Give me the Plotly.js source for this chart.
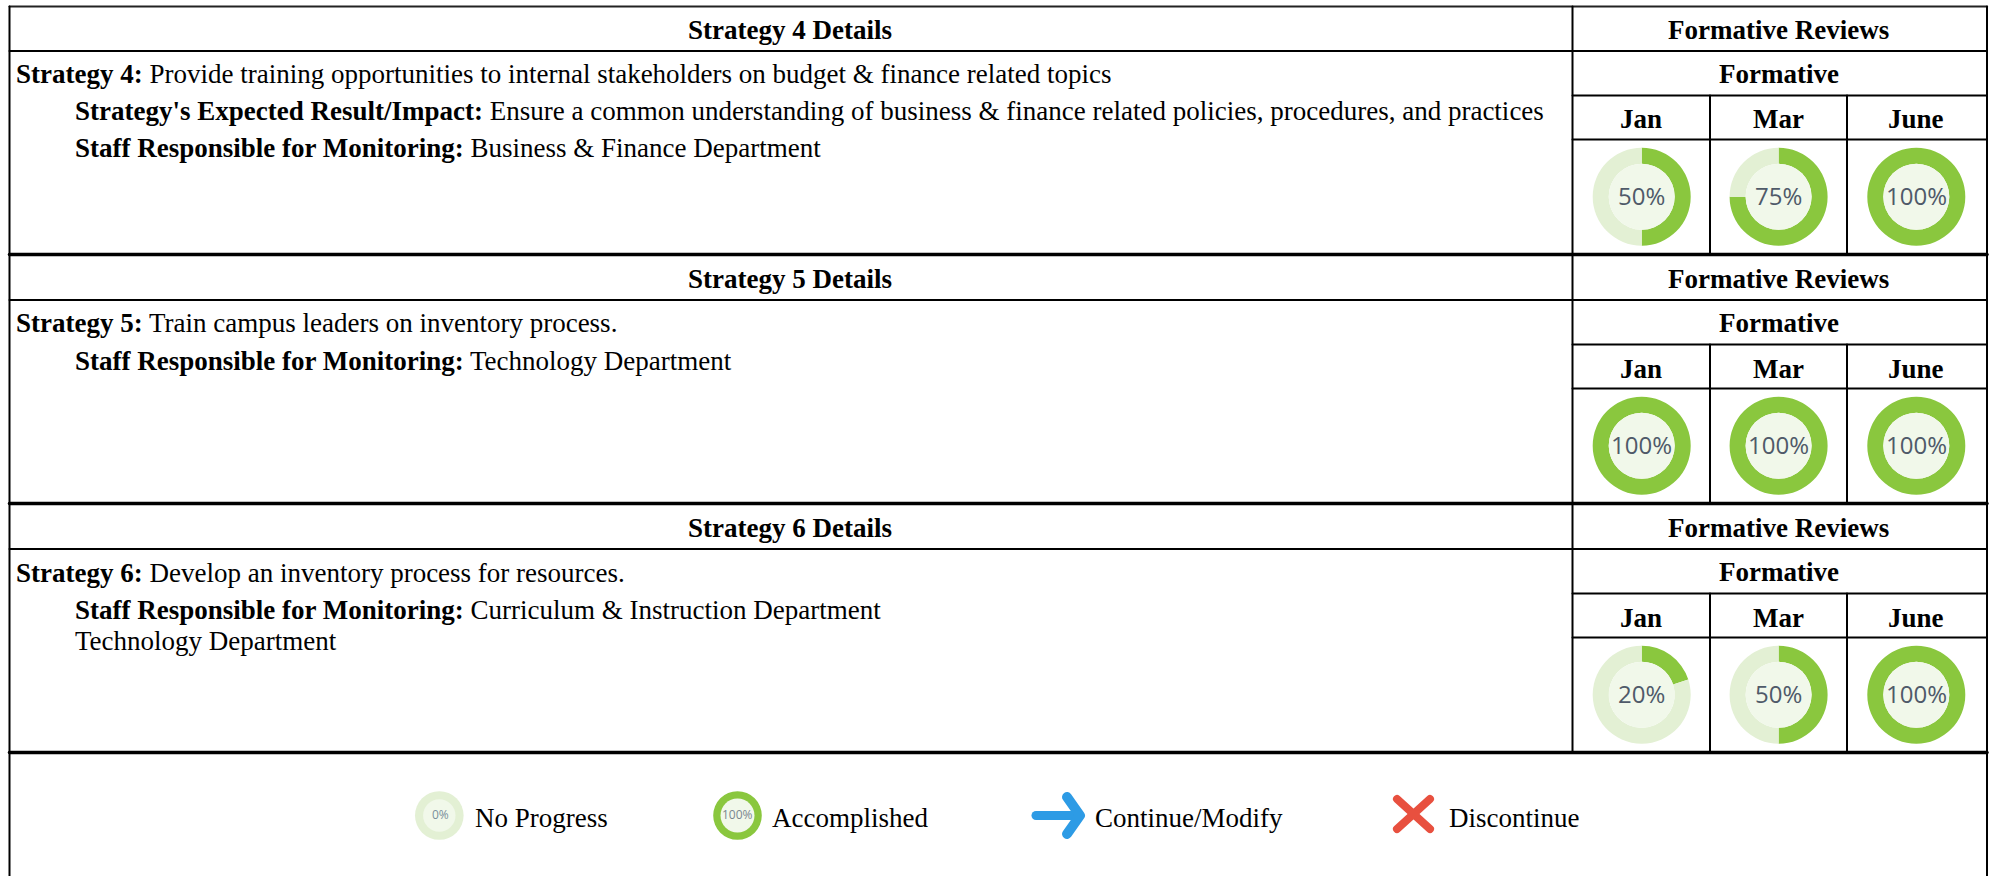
<!DOCTYPE html>
<html>
<head>
<meta charset="utf-8">
<script src="https://cdn.plot.ly/plotly-3.0.1.min.js"></script>
<style>
html,body{margin:0;padding:0;background:#fff}
#chart{width:1995px;height:876px}
.shapelayer path{stroke-linecap:round;stroke-linejoin:round}
</style>
</head>
<body>
<div id="chart"></div>
<script>
// ---- data ----
var blockHeaders = ["Strategy 4 Details", "Strategy 5 Details", "Strategy 6 Details"];
var reviewHeader = "Formative Reviews";
var subHeader = "Formative";
var months = ["Jan", "Mar", "June"];
var strategy4Progress = [50, 75, 100];
var strategy5Progress = [100, 100, 100];
var strategy6Progress = [20, 50, 100];
var strategy4Lines = [
  "<b>Strategy 4:</b> Provide training opportunities to internal stakeholders on budget &amp; finance related topics",
  "<b>Strategy's Expected Result/Impact:</b> Ensure a common understanding of business &amp; finance related policies, procedures, and practices",
  "<b>Staff Responsible for Monitoring:</b> Business &amp; Finance Department"
];
var strategy5Lines = [
  "<b>Strategy 5:</b> Train campus leaders on inventory process.",
  "<b>Staff Responsible for Monitoring:</b> Technology Department"
];
var strategy6Lines = [
  "<b>Strategy 6:</b> Develop an inventory process for resources.",
  "<b>Staff Responsible for Monitoring:</b> Curriculum &amp; Instruction Department",
  "Technology Department"
];
var legendLabels = ["No Progress", "Accomplished", "Continue/Modify", "Discontinue"];

// ---- layout constants ----
var W = 1995, H = 876;
var BLOCK = 249;
var SERIF = '"Liberation Serif", "Times New Roman", serif';
var SANS = '"Open Sans", sans-serif';
var FS = 27;
var GREEN = "#8ac73e", PALE = "#e3f0d4", CORE = "#f1f8ea";
function px(x){return x/W;}
function py(y){return 1-y/H;}

var shapes = [], annotations = [], traces = [];

function line(x0,y0,x1,y1,w,color){
  shapes.push({type:"line",xref:"paper",yref:"paper",x0:px(x0),y0:py(y0),x1:px(x1),y1:py(y1),
    line:{color:color||"#000",width:w}});
}
function text(x,y,t,o){
  o=o||{};
  annotations.push({xref:"paper",yref:"paper",x:px(x),y:py(y),text:t,showarrow:false,
    xanchor:o.anchor||"left",yanchor:"middle",borderpad:0,
    font:{family:o.family||SERIF,size:o.size||FS,color:o.color||"#000"}});
}
function ellipse(cx,cy,rx,ry,fill){
  shapes.push({type:"circle",xref:"paper",yref:"paper",x0:px(cx-rx),x1:px(cx+rx),y0:py(cy-ry),y1:py(cy+ry),
    fillcolor:fill,line:{width:0}});
}
function path(points,w,color){
  var d="M"+points.map(function(p){return px(p[0])+","+py(p[1]);}).join("L");
  shapes.push({type:"path",xref:"paper",yref:"paper",path:d,line:{color:color,width:w}});
}

var colX = [1641.7, 1778.6, 1916.3];
var progress = [strategy4Progress, strategy5Progress, strategy6Progress];
var bodyLines = [strategy4Lines, strategy5Lines, strategy6Lines];
var bodyY = [[74.5,111,148],[323,361],[572.5,610,641]];
var bodyX = [[15,74,74],[15,74],[15,74,74]];
var R = 49, r = 33;

blockHeaders.forEach(function(h,k){
  var o = BLOCK*k;
  // horizontal rules
  line(9.5,51+o,1987,51+o,2);
  line(1572.5,95.5+o,1987,95.5+o,2);
  line(1572.5,139.5+o,1987,139.5+o,2);
  line(9.5,254.5+o,1987,254.5+o,3.5);
  // vertical rules in the month cells
  line(1710,95.5+o,1710,254+o,2);
  line(1847,95.5+o,1847,254+o,2);
  // headers
  text(790,30+o,"<b>"+h+"</b>",{anchor:"center"});
  text(1778.5,30+o,"<b>"+reviewHeader+"</b>",{anchor:"center"});
  text(1778.5,74+o,"<b>"+subHeader+"</b>",{anchor:"center"});
  months.forEach(function(m,i){
    text(colX[i]-0.5,119.5+o,"<b>"+m+"</b>",{anchor:"center"});
    var v = progress[k][i], cy = 196.7+o;
    traces.push({type:"pie",values:[v,100-v],sort:false,direction:"clockwise",rotation:0,
      hole:r/R,textinfo:"none",hoverinfo:"skip",showlegend:false,
      marker:{colors:[GREEN,PALE],line:{width:0}},
      domain:{x:[px(colX[i]-R),px(colX[i]+R)],y:[py(cy+R),py(cy-R)]}});
    ellipse(colX[i],cy,r,r,CORE);
    text(colX[i],cy-1,v+"%",{anchor:"center",family:SANS,size:24,color:"#4f5a69"});
  });
  bodyLines[k].forEach(function(t,j){ text(bodyX[k][j],bodyY[k][j],t); });
});

// frame
line(9.5,6.5,1987,6.5,2,"#222");
line(9.5,6.5,9.5,876,2);
line(1987,6.5,1987,876,2);
line(1572.5,6.5,1572.5,752,2);

// legend
var LY = 815.5;
ellipse(439.3,LY,24.3,24.3,PALE);
ellipse(439.3,LY,16.2,16.2,CORE);
text(440,LY-1,"0%",{anchor:"center",family:SANS,size:12,color:"#7a8f9c"});
ellipse(737.5,LY,24.3,24.3,GREEN);
ellipse(737.5,LY,17,17,CORE);
text(737.5,LY-1,"100%",{anchor:"center",family:SANS,size:12,color:"#7a8790"});
text(473.5,818,legendLabels[0]);
text(770.5,818,legendLabels[1]);
text(1093.5,818,legendLabels[2]);
text(1447.5,818,legendLabels[3]);
path([[1036,815.5],[1078,815.5]],9,"#2d9be5");
path([[1067,797],[1080,815.5],[1067,834]],10,"#2d9be5");
path([[1397,799],[1430,829]],8,"#e8503f");
path([[1430,799],[1397,829]],8,"#e8503f");

Plotly.newPlot("chart",traces,{
  width:W,height:H,margin:{l:0,r:0,t:0,b:0},
  paper_bgcolor:"#fff",plot_bgcolor:"#fff",showlegend:false,
  shapes:shapes,annotations:annotations
},{displayModeBar:false,staticPlot:true});
</script>
</body>
</html>
